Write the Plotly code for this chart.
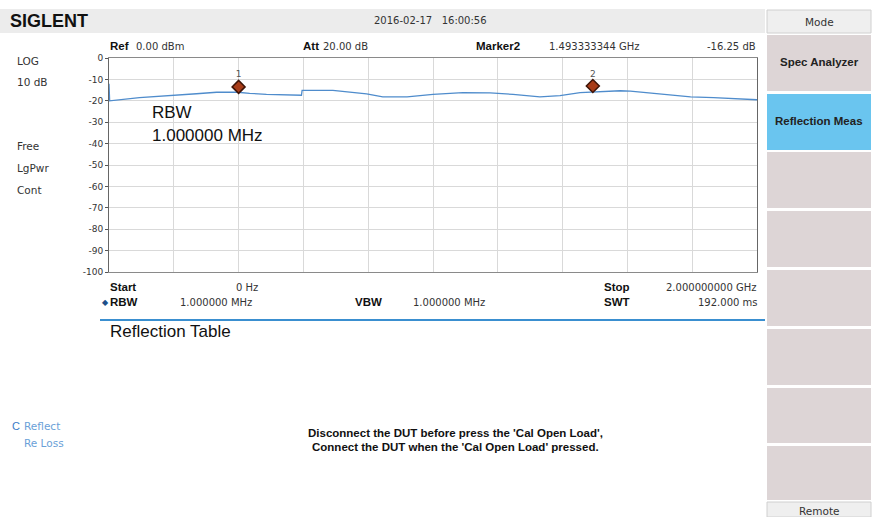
import plotly.graph_objects as go

# ---------------- data ----------------
freq_ghz = [0.0, 0.002, 0.094, 0.177, 0.27, 0.332, 0.397, 0.434, 0.486, 0.594, 0.596,
            0.691, 0.795, 0.845, 0.92, 1.0, 1.092, 1.176, 1.247, 1.33, 1.392, 1.454,
            1.495, 1.578, 1.609, 1.711, 1.795, 1.866, 1.949, 2.0]
level_dbm = [-12.0, -20.0, -18.5, -17.8, -16.7, -16.0, -16.0, -16.5, -17.0, -17.4, -15.1,
             -15.1, -16.8, -18.2, -18.2, -17.0, -16.2, -16.3, -17.0, -18.2, -17.6, -16.2,
             -15.8, -15.3, -15.5, -17.0, -18.2, -18.5, -19.0, -19.5]
marker_names = ["1", "2"]
marker_freq_ghz = [0.4, 1.4933]
marker_level_db = [-13.5, -13.1]
y_ticks = [0, -10, -20, -30, -40, -50, -60, -70, -80, -90, -100]
y_tick_labels = ["0", "-10", "-20", "-30", "-40", "-50", "-60", "-70", "-80", "-90", "-100"]
x_grid = [0.0, 0.2, 0.4, 0.6, 0.8, 1.0, 1.2, 1.4, 1.6, 1.8, 2.0]
left_status = ["LOG", "10 dB", "Free", "LgPwr", "Cont"]
menu_labels = ["Mode", "Spec Analyzer", "Reflection Meas", "", "", "", "", "", "", "Remote"]

# ---------------- geometry helpers ----------------
W, H = 872, 517
ML, MR, MT, MB = 109, 115, 58, 245
PW = W - ML - MR
PH = H - MT - MB


def xp(x):
    return (x - ML) / PW


def yp(y):
    return (H - MB - y) / PH


REG = "DejaVu Sans"
BOLD = "Liberation Sans Narrow, Arial Narrow, Liberation Sans"
ARIAL = "Liberation Sans, Arial"

fig = go.Figure()
fig.add_trace(go.Scatter(x=freq_ghz, y=level_dbm, mode="lines",
                         line=dict(color="#4f8ccc", width=1.3), hoverinfo="skip"))
fig.add_trace(go.Scatter(x=marker_freq_ghz, y=marker_level_db, mode="markers+text",
                         text=marker_names, textposition="top center",
                         textfont=dict(family=REG, size=9, color="#555"),
                         marker=dict(symbol="diamond", size=10, color="#a83c18",
                                     line=dict(color="#3e1408", width=1.5)),
                         hoverinfo="skip"))

shapes = []
annotations = []


def rect(x0, y0, x1, y1, fill, line=None):
    shapes.append(dict(type="rect", xref="paper", yref="paper", layer="below",
                       x0=xp(x0), x1=xp(x1), y0=yp(y1), y1=yp(y0),
                       fillcolor=fill,
                       line=dict(width=1 if line else 0, color=line or fill)))


def text(x, y, s, size=10.5, color="#333", family=REG, anchor="left", bold=False):
    if bold:
        s = "<b>" + s + "</b>"
    if anchor == "left":
        x -= 2
    elif anchor == "right":
        x += 2
    annotations.append(dict(xref="paper", yref="paper", x=xp(x), y=yp(y), text=s,
                            showarrow=False, xanchor=anchor, yanchor="middle",
                            font=dict(family=family, size=size, color=color)))


# header band
rect(0, 9, 765, 33, "#ececec")
text(10, 21, "SIGLENT", size=18, color="#111", family=ARIAL, bold=True)
text(430, 21, "2016-02-17\u00a0\u00a0 16:00:56", size=10, anchor="center")

# right menu panel
rect(766, 9, 872, 517, "#ffffff")
rect(767, 10, 871, 33, "#efefef", "#d0d0d0")
btn_tops = [35, 94, 152, 211, 270, 329, 388, 446]
btn_bots = [91, 150, 208, 267, 326, 385, 443, 500]
for i, (t0, b0) in enumerate(zip(btn_tops, btn_bots)):
    rect(767, t0, 871, b0, "#6ac5ef" if i == 1 else "#ddd5d6")
rect(767, 502, 871, 517, "#efefef", "#d0d0d0")
text(819, 22, menu_labels[0], size=10.5, anchor="center")
text(819, 62, menu_labels[1], size=11.5, color="#222", family=ARIAL, anchor="center", bold=True)
text(819, 121, menu_labels[2], size=11.5, color="#222", family=ARIAL, anchor="center", bold=True)
text(819, 511, menu_labels[9], size=10.5, anchor="center")

# left status column
for s, yy in zip(left_status, [61, 82, 146, 168, 190]):
    text(17, yy, s, size=10.5)

# top info line
text(110, 46, "Ref", size=11.5, color="#111", family=BOLD, bold=True)
text(136, 46, "0.00 dBm", size=10)
text(303, 46, "Att", size=11.5, color="#111", family=BOLD, bold=True)
text(323, 46, "20.00 dB", size=10)
text(476, 46, "Marker2", size=11.5, color="#111", family=BOLD, bold=True)
text(549, 46, "1.493333344 GHz", size=10)
text(756, 46, "-16.25 dB", size=10, anchor="right")

# in-plot text
text(152, 112, "RBW", size=17, color="#111", family=ARIAL)
text(152, 135, "1.000000 MHz", size=17, color="#111", family=ARIAL)

# bottom info lines
text(110, 287, "Start", size=11.5, color="#111", family=BOLD, bold=True)
text(258, 287, "0 Hz", size=10, anchor="right")
text(604, 287, "Stop", size=11.5, color="#111", family=BOLD, bold=True)
text(757, 287, "2.000000000 GHz", size=10, anchor="right")
text(102, 302, "\u25c6", size=8, color="#1e4f8a", family=ARIAL)
text(110, 302, "RBW", size=11.5, color="#111", family=BOLD, bold=True)
text(180, 302, "1.000000 MHz", size=10)
text(355, 302, "VBW", size=11.5, color="#111", family=BOLD, bold=True)
text(413, 302, "1.000000 MHz", size=10)
text(604, 302, "SWT", size=11.5, color="#111", family=BOLD, bold=True)
text(757, 302, "192.000 ms", size=10, anchor="right")

shapes.append(dict(type="line", xref="paper", yref="paper", x0=xp(100), x1=xp(765),
                   y0=yp(320), y1=yp(320), line=dict(color="#3a8fd0", width=2)))
text(110, 331, "Reflection Table", size=17, color="#111", family=ARIAL)

text(12, 426, "C", size=11, color="#3b7bc8", family=ARIAL)
text(24, 426, "Reflect", size=10.5, color="#6a9fd8")
text(24, 443, "Re Loss", size=10.5, color="#6a9fd8")

text(455, 433, "Disconnect the DUT before press the 'Cal Open Load',", size=11.5,
     color="#111", family=BOLD, anchor="center", bold=True)
text(455, 447, "Connect the DUT when the 'Cal Open Load' pressed.", size=11.5,
     color="#111", family=BOLD, anchor="center", bold=True)

fig.update_layout(
    width=W, height=H, autosize=False,
    margin=dict(l=ML, r=MR, t=MT, b=MB, pad=0),
    paper_bgcolor="white", plot_bgcolor="white",
    showlegend=False,
    shapes=shapes, annotations=annotations,
    xaxis=dict(range=[0, 2], tickvals=x_grid, showticklabels=False, ticks="",
               showgrid=True, gridcolor="#d9d9d9", gridwidth=1, zeroline=False,
               showline=True, mirror=True, linecolor="#8a8a8a", linewidth=1, fixedrange=True),
    yaxis=dict(range=[-100, 0], tickvals=y_ticks, ticktext=y_tick_labels,
               ticks="outside", ticklen=3, tickcolor="#555",
               tickfont=dict(family=REG, size=9, color="#333"),
               showgrid=True, gridcolor="#d9d9d9", gridwidth=1, zeroline=False,
               showline=True, mirror=True, linecolor="#666", linewidth=1, fixedrange=True),
)

fig.write_html("out.html", config={"displayModeBar": False},
               post_script="document.body.style.margin='0';document.body.style.overflow='hidden';")
